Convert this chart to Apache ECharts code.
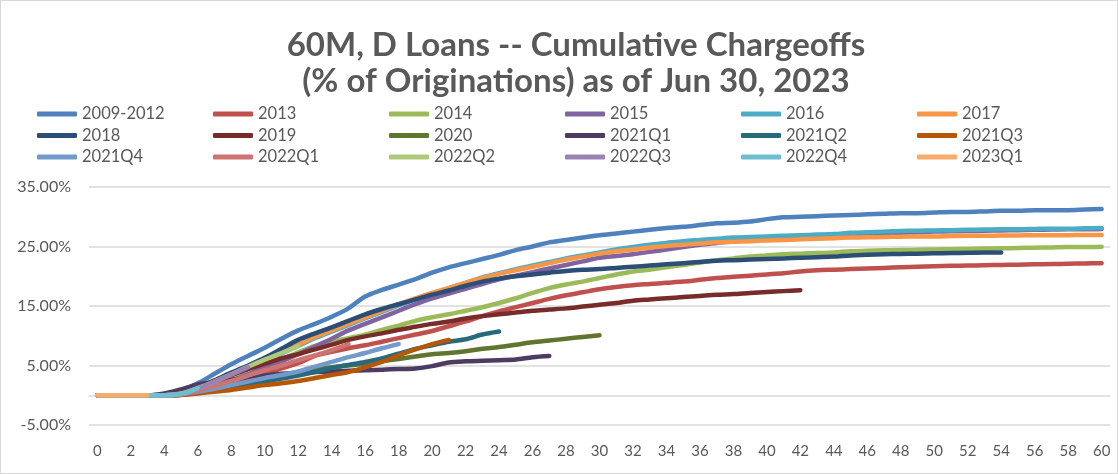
<!DOCTYPE html>
<html><head><meta charset="utf-8">
<script src="https://cdn.jsdelivr.net/npm/echarts@6/dist/echarts.min.js"></script>
<style>
html,body{margin:0;padding:0;background:#fff;}
#c{width:1118px;height:474px;box-sizing:border-box;border:1px solid #d9d9d9;}
</style></head><body><div id="c"></div>
<script>
const months = ['0','1','2','3','4','5','6','7','8','9','10','11','12','13','14','15','16','17','18','19','20','21','22','23','24','25','26','27','28','29','30','31','32','33','34','35','36','37','38','39','40','41','42','43','44','45','46','47','48','49','50','51','52','53','54','55','56','57','58','59','60'];
const yTicks = [-5, 5, 15, 25, 35];

const names = ['2009-2012','2013','2014','2015','2016','2017','2018','2019','2020','2021Q1','2021Q2','2021Q3','2021Q4','2022Q1','2022Q2','2022Q3','2022Q4','2023Q1'];
const colors = ['#4F81BD','#C0504D','#9BBB59','#8064A2','#4BACC6','#F79646','#2C4D75','#772C2A','#5F7530','#4D3B62','#276A7C','#B65708','#729ACA','#CD7371','#AFC97A','#9983B5','#6FBDD1','#F9AB6B'];

const s2009_2012 = [0,0,0,0,0.1,0.7,2.0,3.6,5.2,6.6,8.0,9.5,10.9,12.0,13.2,14.6,16.6,17.7,18.6,19.5,20.6,21.5,22.2,22.9,23.6,24.4,25.0,25.7,26.1,26.5,26.9,27.2,27.5,27.8,28.1,28.3,28.6,28.9,29.0,29.2,29.6,29.9,30.0,30.1,30.2,30.3,30.4,30.5,30.6,30.6,30.7,30.8,30.8,30.9,31.0,31.0,31.1,31.1,31.1,31.2,31.3];
const s2013 = [0,0,0,0,0,0.1,0.6,1.3,2.0,2.8,3.6,4.5,5.4,6.6,7.3,7.9,8.4,9.0,9.6,10.2,10.8,11.6,12.4,13.3,14.1,14.8,15.5,16.2,16.8,17.3,17.8,18.2,18.5,18.7,18.9,19.1,19.4,19.7,19.9,20.1,20.3,20.5,20.8,21.0,21.1,21.2,21.3,21.4,21.5,21.6,21.7,21.75,21.8,21.85,21.9,21.95,22.0,22.05,22.1,22.15,22.2];
const s2014 = [0,0,0,0,0,0.2,0.8,1.6,2.5,3.5,4.8,6.0,7.2,8.3,9.0,9.6,10.2,11.0,11.7,12.5,13.1,13.6,14.2,14.8,15.5,16.3,17.2,18.0,18.6,19.1,19.7,20.3,20.8,21.1,21.5,21.9,22.3,22.7,23.0,23.3,23.5,23.7,23.8,23.9,24.0,24.2,24.3,24.35,24.4,24.45,24.5,24.55,24.6,24.65,24.7,24.75,24.8,24.85,24.9,24.9,24.95];
const s2015 = [0,0,0,0,0,0.2,0.8,1.6,2.5,3.5,4.6,5.7,6.9,8.2,9.5,10.9,12.0,13.1,14.2,15.3,16.3,17.1,17.9,18.7,19.5,20.1,20.7,21.3,21.9,22.5,23.1,23.4,23.7,24.1,24.5,24.9,25.3,25.6,25.9,26.1,26.3,26.45,26.6,26.75,26.9,27.0,27.1,27.2,27.3,27.4,27.5,27.55,27.6,27.65,27.7,27.75,27.8,27.85,27.9,27.9,27.95];
const s2016 = [0,0,0,0,0,0.2,0.9,1.9,3.1,4.4,5.7,7.0,8.3,9.6,10.7,11.8,12.9,14.0,15.1,16.1,17.1,18.0,18.9,19.8,20.5,21.2,21.8,22.4,23.0,23.5,24.0,24.5,24.9,25.3,25.6,25.9,26.1,26.3,26.5,26.6,26.7,26.8,26.9,27.0,27.1,27.3,27.4,27.5,27.6,27.65,27.7,27.75,27.8,27.85,27.9,27.9,27.95,28.0,28.0,28.05,28.1];
const s2017 = [0,0,0,0,0,0.2,0.9,2.0,3.2,4.5,5.8,7.2,8.5,9.8,10.9,12.0,13.1,14.2,15.3,16.3,17.2,18.0,18.9,19.7,20.4,21.0,21.6,22.2,22.8,23.3,23.8,24.2,24.5,24.8,25.1,25.3,25.5,25.7,25.8,25.9,26.0,26.1,26.2,26.3,26.4,26.5,26.55,26.6,26.65,26.7,26.7,26.75,26.8,26.8,26.85,26.85,26.9,26.9,26.9,26.95,26.95];
const s2018 = [0,0,0,0,0,0.3,1.3,2.5,3.8,5.0,6.3,7.8,9.3,10.4,11.4,12.5,13.6,14.5,15.3,16.1,16.9,17.6,18.4,19.1,19.6,20.0,20.3,20.6,20.9,21.1,21.2,21.4,21.6,21.8,22.0,22.2,22.4,22.6,22.7,22.8,22.9,23.0,23.1,23.2,23.3,23.5,23.6,23.7,23.75,23.8,23.85,23.9,23.95,24.0,24.0];
const s2019 = [0,0,0,0,0,0.5,1.4,2.4,3.4,4.4,5.3,6.2,6.9,7.7,8.5,9.3,9.9,10.4,11.0,11.5,12.0,12.4,12.9,13.3,13.6,13.9,14.2,14.4,14.6,14.9,15.2,15.5,15.9,16.1,16.3,16.5,16.7,16.9,17.0,17.2,17.35,17.5,17.65];
const s2020 = [0,0,0,0,0,0.1,0.5,1.0,1.6,2.2,2.8,3.3,3.8,4.3,4.7,5.0,5.3,5.7,6.1,6.5,6.9,7.1,7.4,7.8,8.1,8.5,8.9,9.2,9.5,9.8,10.1];
const s2021Q1 = [0,0,0,0,0.3,1.0,1.8,2.2,2.6,3.0,3.3,3.6,3.8,3.9,4.0,4.1,4.2,4.3,4.4,4.5,4.9,5.5,5.7,5.8,5.9,6.0,6.4,6.6];
const s2021Q2 = [0,0,0,0,0,0.1,0.4,0.8,1.3,1.8,2.3,2.8,3.3,3.9,4.6,5.1,5.6,6.2,7.0,7.8,8.4,9.0,9.4,10.2,10.7];
const s2021Q3 = [0,0,0,0,0,0.05,0.3,0.6,0.9,1.3,1.7,2.0,2.4,2.9,3.4,3.9,4.7,5.6,6.7,7.7,8.6,9.3];
const s2021Q4 = [0,0,0,0,0,0.2,0.6,1.1,1.7,2.3,2.9,3.4,4.0,4.8,5.6,6.4,7.1,7.9,8.6];
const s2022Q1 = [0,0,0,0,0,0.2,0.8,1.6,2.4,3.3,4.2,5.0,5.9,6.7,7.6,8.6];
const s2022Q2 = [0,0,0,0,0,0.3,1.2,2.3,3.5,4.8,6.0,7.1,8.2];
const s2022Q3 = [0,0,0,0,0,0.2,1.1,2.3,3.5,4.7];
const s2022Q4 = [0,0,0,0,0,0.2,1.2];
const s2023Q1 = [0,0,0,0];

const seriesData = [s2009_2012,s2013,s2014,s2015,s2016,s2017,s2018,s2019,s2020,s2021Q1,s2021Q2,s2021Q3,s2021Q4,s2022Q1,s2022Q2,s2022Q3,s2022Q4,s2023Q1];

const FONT = 'Lato';
const GRAY = '#595959';
const legendCols = [31, 207, 383, 559, 735, 911];

const legends = legendCols.map((x, c) => ({
  orient: 'vertical',
  left: x, top: 99,
  itemWidth: 40, itemHeight: 5, itemGap: 3.5,
  icon: 'roundRect',
  textStyle: {fontFamily: FONT, fontSize: 16.5, color: GRAY, lineHeight: 18},
  data: [names[c], names[c + 6], names[c + 12]]
}));

const chart = echarts.init(document.getElementById('c'), null, {renderer: 'canvas'});
chart.setOption({
  animation: false,
  color: colors,
  title: {
    text: '60M, D Loans -- Cumulative Chargeoffs\n(% of Originations) as of Jun 30, 2023',
    left: 570, textAlign: 'center', top: 21,
    textStyle: {fontFamily: FONT, fontSize: 33, fontWeight: 'bold', color: GRAY, lineHeight: 36}
  },
  legend: legends,
  grid: {left: 88, right: 7, top: 186, bottom: 48, containLabel: false},
  xAxis: {
    type: 'category', data: months, boundaryGap: true,
    axisLine: {onZero: true, lineStyle: {color: '#d9d9d9', width: 1.5}},
    axisTick: {show: false},
    axisLabel: {interval: 1, margin: 19, fontFamily: FONT, fontSize: 15, color: GRAY}
  },
  yAxis: {
    type: 'value', min: yTicks[0], max: yTicks[yTicks.length - 1], interval: 10,
    axisLine: {show: false}, axisTick: {show: false},
    splitLine: {lineStyle: {color: '#d9d9d9', width: 1.5}},
    axisLabel: {margin: 18, fontFamily: FONT, fontSize: 16, color: GRAY,
      formatter: v => v.toFixed(2) + '%'}
  },
  series: names.map((n, i) => ({
    name: n, type: 'line', data: seriesData[i], symbol: 'none', smooth: 0.3,
    lineStyle: {width: 4.5, color: colors[i], cap: 'round', join: 'round'},
    itemStyle: {color: colors[i]},
    z: 2 + i
  }))
});
</script></body></html>
